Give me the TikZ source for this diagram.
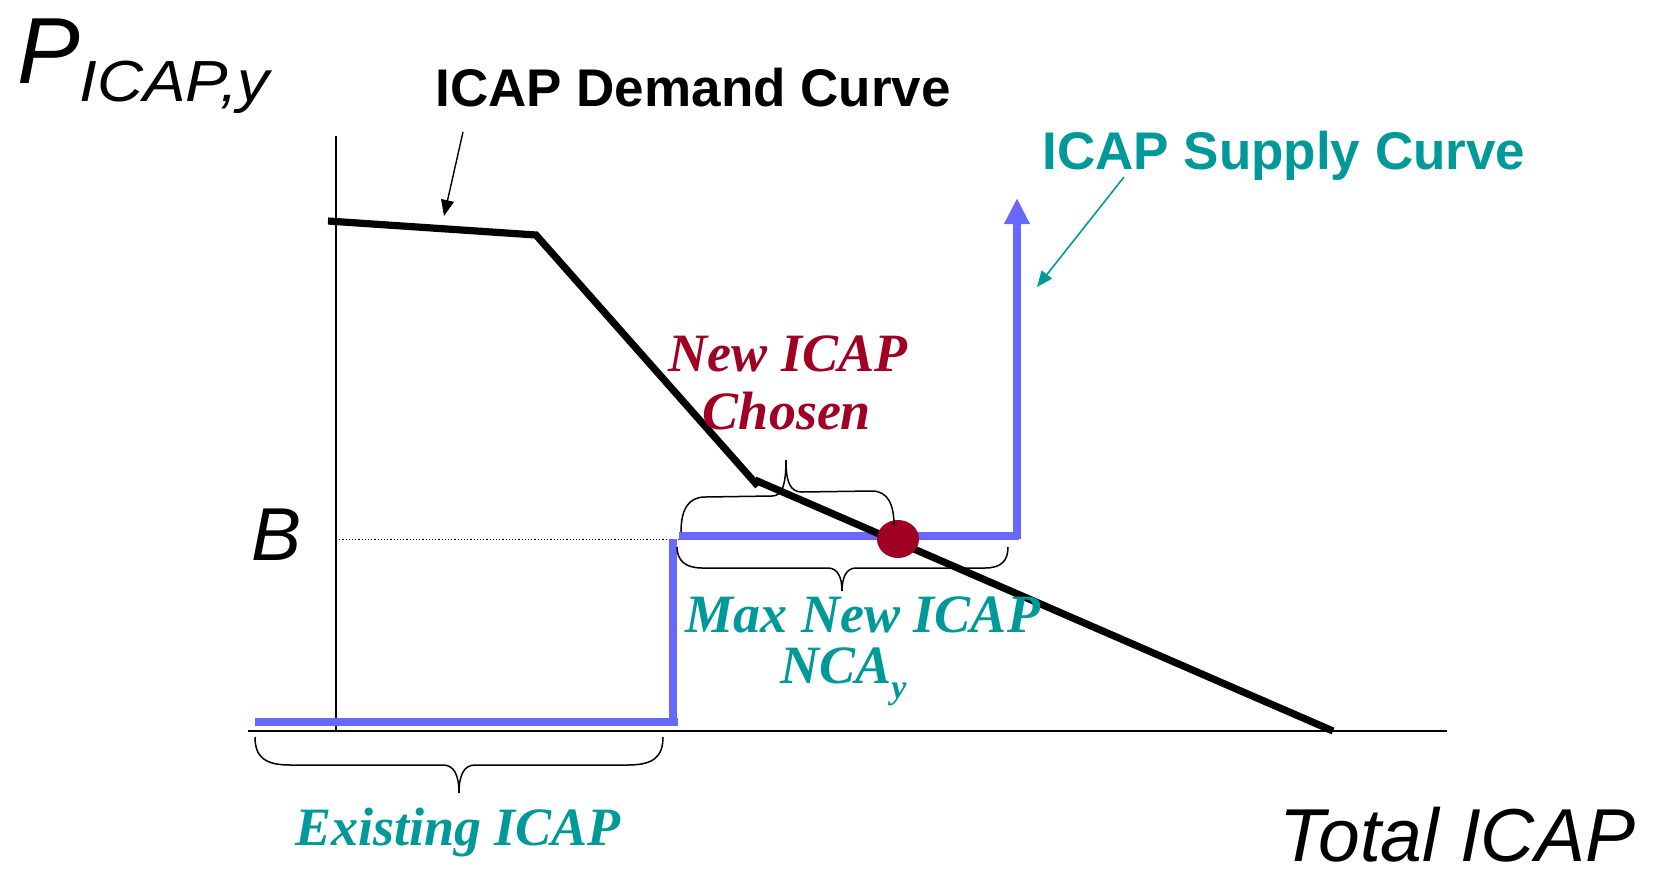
\documentclass[tikz,border=0pt]{standalone}
\usepackage{fontspec}
\newfontfamily\arialfont{Liberation Sans}
\newfontfamily\timesfont{Liberation Serif}
\usetikzlibrary{arrows.meta,shapes.geometric}
\definecolor{tealc}{RGB}{0,153,153}
\definecolor{bluec}{RGB}{104,104,255}
\definecolor{redc}{RGB}{160,0,36}
\tikzset{
  lbl/.style={inner sep=0pt, anchor=base west},
  clbl/.style={inner sep=0pt, anchor=base},
  demand/.style={line width=3.6pt, black, line join=miter},
  supply/.style={line width=3.6pt, bluec},
  axisline/.style={line width=0.6pt, black},
  bracel/.style={line width=0.75pt, black},
  sansbi/.style={font=\arialfont\bfseries\fontsize{26.5pt}{30pt}\selectfont},
  sansi/.style={font=\arialfont\itshape\fontsize{37.5pt}{42pt}\selectfont},
  serifbi/.style={font=\timesfont\bfseries\itshape\fontsize{27pt}{30pt}\selectfont},
}
\begin{document}
\begin{tikzpicture}[x=0.5pt,y={(0pt,-0.5pt)}]
\useasboundingbox (0,0) rectangle (1662,874);
\fill[white] (0,0) rectangle (1662,874);

% axes
\coordinate (ax0) at (248,731);
\coordinate (ax1) at (1447,731);
\coordinate (ay0) at (336,136);
\coordinate (ay1) at (336,731);
\draw[axisline] (ax0) -- (ax1);
\draw[axisline] (ay0) -- (ay1);

% dotted level B
\coordinate (b0) at (336,539);
\coordinate (b1) at (679,539);
\draw[line width=0.5pt, dash pattern=on 0.6pt off 1pt] (b0) -- (b1);

% supply curve
\coordinate (s0) at (255,722);
\coordinate (s1) at (678,722);
\coordinate (s2) at (673,725);
\coordinate (s3) at (673,539);
\coordinate (s4) at (679,536);
\coordinate (s5) at (1019,536);
\coordinate (s6) at (1017,539);
\coordinate (s7) at (1017,198);
\draw[supply] (s0) -- (s1);
\draw[supply] (s2) -- (s3);
\draw[supply] (s4) -- (s5);
\draw[supply, -{Triangle[width=12pt,length=13pt]}] (s6) -- (s7);

% demand curve
\coordinate (d0) at (328,221);
\coordinate (d1) at (536,235);
\coordinate (d2) at (758,486);
\coordinate (d3) at (755,480);
\coordinate (d4) at (1333,731);
\draw[demand] (d0) -- (d1) -- (d2);
\draw[demand] (d3) -- (d4);

% chosen point
\node[ellipse, fill=redc, minimum width=21pt, minimum height=19pt, inner sep=0pt] (dot) at (898,539) {};

% braces
\draw[bracel] (255,737) .. controls (255,757) and (265,765) .. (290,765) -- (443,765)
  .. controls (454,765) and (459,775) .. (459,793)
  .. controls (459,775) and (464,765) .. (475,765) -- (628,765)
  .. controls (653,765) and (663,757) .. (663,737);
\draw[bracel] (681,532) .. controls (681,510) and (688,497) .. (705,497) -- (772,496)
  .. controls (782,496) and (786,485) .. (786,460)
  .. controls (786,482) and (790,492) .. (802,492) -- (872,491)
  .. controls (888,491) and (894,505) .. (894,525);
\draw[bracel] (677,547) .. controls (677,560) and (685,568) .. (702,568) -- (828,568)
  .. controls (838,568) and (842,578) .. (842,591)
  .. controls (842,578) and (846,568) .. (856,568) -- (985,568)
  .. controls (1002,568) and (1008,560) .. (1008,547);

% texts
\node[lbl, font=\arialfont\itshape\fontsize{47pt}{52pt}\selectfont] (ptitle) at (17,83) {P};
\node[lbl, font=\arialfont\itshape\fontsize{29pt}{32pt}\selectfont] (psub) at (79,101) {\scalebox{1.1}[1]{ICAP,y}};
\node[lbl, sansbi] (demlbl) at (435,106) {ICAP Demand Curve};
\node[lbl, sansbi, text=tealc] (suplbl) at (1042,169) {ICAP Supply Curve};
\node[lbl, sansi] (blbl) at (251,560) {B};
\node[lbl, sansi] (totlbl) at (1279,861) {Total ICAP};
\node[clbl, serifbi, text=redc] (new1) at (788,371) {New ICAP};
\node[clbl, serifbi, text=redc] (new2) at (787,429) {Chosen};
\node[clbl, serifbi, text=tealc] (max1) at (863,632) {Max New ICAP};
\node[lbl, serifbi, text=tealc] (max2) at (780,683) {NCA\raisebox{-0.28em}{\fontsize{17pt}{20pt}\selectfont y}};
\node[clbl, serifbi, text=tealc] (exlbl) at (458,845) {Existing ICAP};

% label arrows
\coordinate (dmA) at (463,132);
\coordinate (dmB) at (444,216);
\draw[line width=0.7pt, -{Triangle[width=6.5pt,length=8pt]}] (dmA) -- (dmB);
\coordinate (spA) at (1124,177);
\coordinate (spB) at (1037,287);
\draw[line width=0.8pt, tealc, -{Triangle[width=6.5pt,length=8pt]}] (spA) -- (spB);
\end{tikzpicture}
\end{document}
